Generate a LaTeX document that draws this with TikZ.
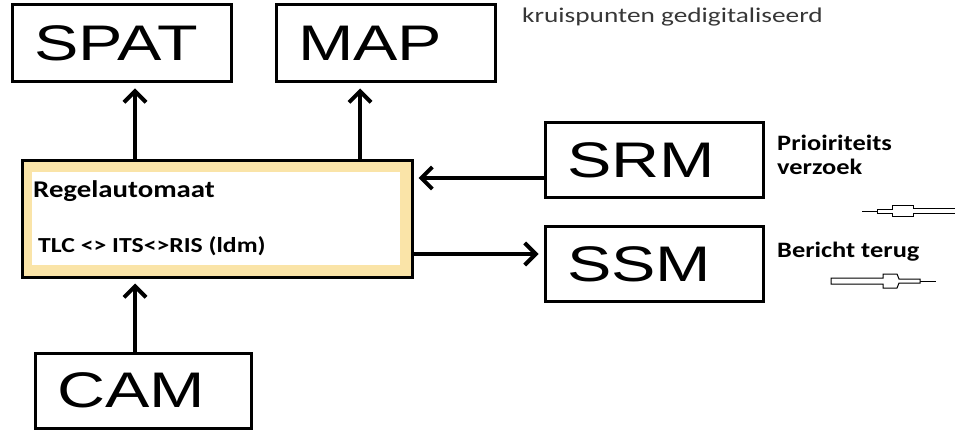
\documentclass[tikz,border=0pt]{standalone}
\usepackage{fontspec}
\usepackage{tikz}
\usetikzlibrary{arrows.meta}
\newfontfamily\groot[FakeStretch=1.33]{Liberation Sans}
\newfontfamily\klein[FakeStretch=1.2]{Carlito}
\newfontfamily\kleinreg[FakeStretch=1.3]{Carlito}
\definecolor{geel}{RGB}{250,228,168}
\definecolor{donker}{RGB}{55,55,55}
\begin{document}
\begin{tikzpicture}[x=1pt,y=-1pt]
	\tikzstyle{blok}=[draw=black, line width=3pt, fill=white, inner xsep=22pt, align=left,
		font=\groot\fontsize{50}{50}\selectfont]
	\tikzstyle{pijl}=[black, line width=4pt, -{Straight Barb[length=11pt,width=22pt]}, shorten >=5pt]
	\tikzstyle{holpijl}=[black, line width=1pt, fill=white]
	\tikzstyle{label}=[inner sep=0pt, font=\klein\bfseries\fontsize{22}{22}\selectfont, text=black]
	\useasboundingbox (0,0) rectangle (955,430);
	\node [blok, text width=175pt, minimum height=77pt] (spat) at (121.5,43.5) {SPAT};
	\node [blok, text width=175pt, minimum height=77pt] (map) at (385.5,43.5) {MAP};
	\node [blok, text width=174pt, minimum height=75pt] (srm) at (654,160.5) {SRM};
	\node [blok, text width=174pt, minimum height=74pt] (ssm) at (654,264) {SSM};
	\node [blok, text width=172pt, minimum height=75pt] (cam) at (143,390.5) {CAM};
	\node [draw=black, line width=3pt, fill=geel, minimum width=390pt, minimum height=116pt, inner sep=0pt] (regel) at (217,219) {};
	\fill [white] (32,172) rectangle (400,265);
	\node [label, anchor=base west, font=\klein\bfseries\fontsize{24}{24}\selectfont] (naam) at (33,198) {Regelautomaat};
	\node [label, anchor=base west, font=\klein\bfseries\fontsize{21.4}{22}\selectfont] (keten) at (38,253) {TLC <> ITS<>RIS (ldm)};
	\node [inner sep=0pt, anchor=base west, text=donker, font=\kleinreg\fontsize{21}{21}\selectfont] (kruis) at (522,23) {kruispunten gedigitaliseerd};
	\node [label, anchor=base west] (prio) at (777,151) {Prioiriteits};
	\node [label, anchor=base west] (verz) at (777,175) {verzoek};
	\node [label, anchor=base west] (terug) at (777,258) {Bericht terug};
	\coordinate (uitspat) at (135,0);
	\coordinate (uitmap) at (360,0);
	\coordinate (insrm) at (0,178);
	\coordinate (uitssm) at (0,254);
	\draw [pijl] (regel.north -| uitspat) -- (spat.south -| uitspat);
	\draw [pijl] (regel.north -| uitmap) -- (map.south -| uitmap);
	\draw [pijl] (cam.north -| uitspat) -- (regel.south -| uitspat);
	\draw [pijl] (srm.west |- insrm) -- (regel.east |- insrm);
	\draw [pijl] (regel.east |- uitssm) -- (ssm.west |- uitssm);
	\draw [black, line width=1.8pt] (862,211.5) -- (878,211.5);
	\filldraw [holpijl] (877,209.5) -- (892,209.5) -- (892,206) -- (913,206) -- (913,209) -- (956,209)
		-- (956,214) -- (913,214) -- (913,217) -- (892,217) -- (892,213.5) -- (877,213.5) -- cycle;
	\draw [black, line width=1pt] (918,281) -- (936,281);
	\filldraw [holpijl] (831,278) -- (883,278) -- (883,274) -- (897,274) -- (899,279) -- (920,279)
		-- (920,283) -- (899,283) -- (897,288) -- (883,288) -- (883,284) -- (831,284) -- cycle;
\end{tikzpicture}
\end{document}
